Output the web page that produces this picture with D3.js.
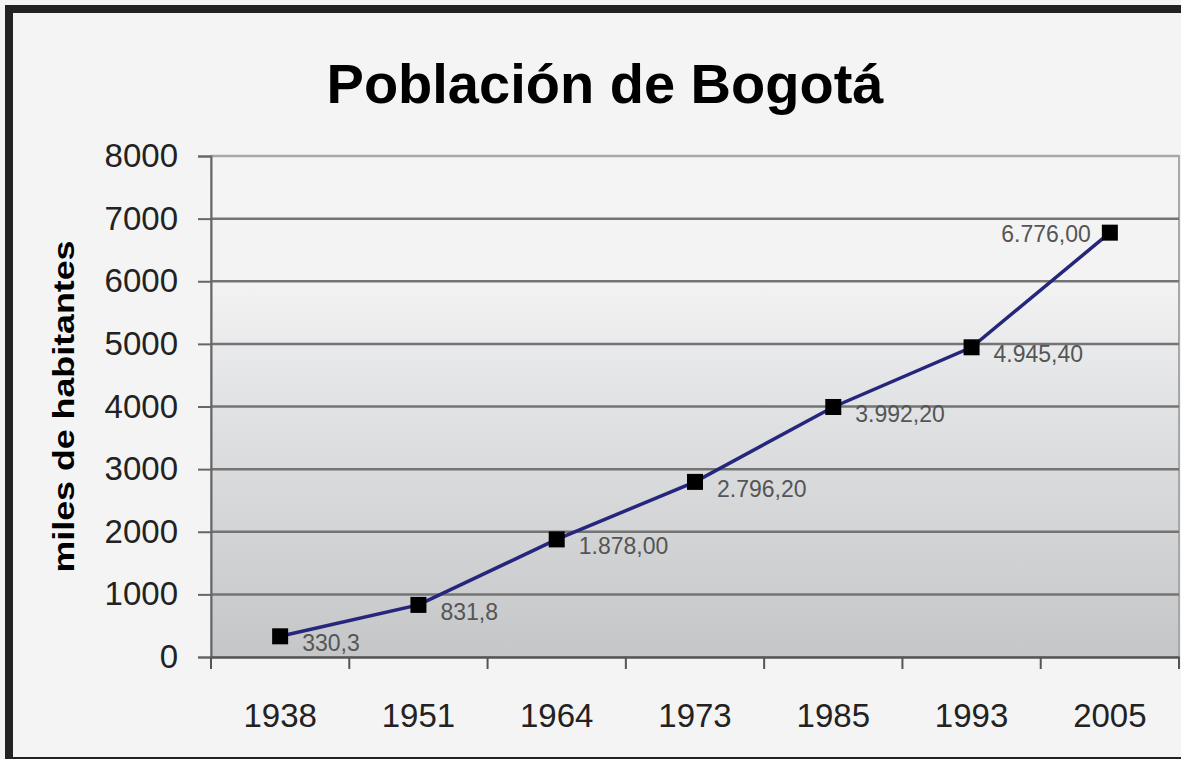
<!DOCTYPE html>
<html>
<head>
<meta charset="utf-8">
<script src="https://cdn.jsdelivr.net/npm/d3@7"></script>
<style>
  body { margin: 0; background: #f4f4f4; }
  svg { display: block; font-family: Arial, "Liberation Sans", sans-serif; }
</style>
</head>
<body>
<div id="grafico"></div>
<script>
// Población de Bogotá (miles de habitantes)
const anios = ["1938", "1951", "1964", "1973", "1985", "1993", "2005"];
const poblacion = [330.3, 831.8, 1878.0, 2796.2, 3992.2, 4945.4, 6776.0];
const etiquetas = ["330,3", "831,8", "1.878,00", "2.796,20", "3.992,20", "4.945,40", "6.776,00"];
const ticksY = [0, 1000, 2000, 3000, 4000, 5000, 6000, 7000, 8000];

const width = 1181;
const height = 759;
const margin = { top: 156, right: 2, bottom: 102, left: 211 };

const svg = d3.select("#grafico")
    .append("svg")
    .attr("width", width)
    .attr("height", height);

const data = anios.map((a, i) => ({ anio: a, valor: poblacion[i], etiqueta: etiquetas[i] }));

const x = d3.scaleBand()
    .domain(anios)
    .range([margin.left, width - margin.right]);

const y = d3.scaleLinear()
    .domain([0, 8000])
    .range([height - margin.bottom, margin.top]);

// fondo degradado del área del gráfico
const defs = svg.append("defs");
const grad = defs.append("linearGradient")
    .attr("id", "fondo")
    .attr("x1", 0).attr("y1", 0).attr("x2", 0).attr("y2", 1);
grad.append("stop").attr("offset", "0%").attr("stop-color", "#f4f4f4");
grad.append("stop").attr("offset", "25%").attr("stop-color", "#f3f3f3");
grad.append("stop").attr("offset", "45%").attr("stop-color", "#e4e5e7");
grad.append("stop").attr("offset", "100%").attr("stop-color", "#c5c6c8");

svg.append("rect")
    .attr("x", x.range()[0])
    .attr("y", y(8000))
    .attr("width", x.range()[1] - x.range()[0])
    .attr("height", y(0) - y(8000))
    .attr("fill", "url(#fondo)")
    .attr("stroke", "#a8a8a8")
    .attr("stroke-width", 2);

// líneas de cuadrícula
svg.append("g")
    .selectAll("line")
    .data(ticksY.filter(t => t > 0))
    .join("line")
    .attr("x1", x.range()[0])
    .attr("x2", x.range()[1])
    .attr("y1", d => y(d))
    .attr("y2", d => y(d))
    .attr("stroke", d => d === 8000 ? "#a8a8a8" : "#747474")
    .attr("stroke-width", 2.5);

// eje Y
const ejeY = svg.append("g")
    .attr("transform", `translate(${margin.left},0)`)
    .call(d3.axisLeft(y).tickValues(ticksY).tickSize(13).tickPadding(20).tickFormat(d3.format("d")));
ejeY.select(".domain").attr("stroke", "#666").attr("stroke-width", 2);
ejeY.selectAll(".tick line").attr("stroke", "#666").attr("stroke-width", 2);
ejeY.selectAll("text")
    .attr("fill", "#222")
    .style("font-size", "33px");

// eje X
const ejeX = svg.append("g")
    .attr("transform", `translate(0,${y(0)})`)
    .call(d3.axisBottom(x).tickSize(0).tickPadding(47));
ejeX.select(".domain").attr("stroke", "#555").attr("stroke-width", 2.5);
ejeX.selectAll("text")
    .attr("fill", "#222")
    .style("font-size", "33px");

// marcas de separación entre categorías
svg.append("g")
    .selectAll("line")
    .data(anios.concat(["fin"]))
    .join("line")
    .attr("x1", (d, i) => i < anios.length ? x(d) : x.range()[1])
    .attr("x2", (d, i) => i < anios.length ? x(d) : x.range()[1])
    .attr("y1", y(0))
    .attr("y2", y(0) + 12)
    .attr("stroke", "#555")
    .attr("stroke-width", 2);

// línea de la serie
const linea = d3.line()
    .x(d => x(d.anio) + x.bandwidth() / 2)
    .y(d => y(d.valor));

svg.append("path")
    .datum(data)
    .attr("d", linea)
    .attr("fill", "none")
    .attr("stroke", "#26267c")
    .attr("stroke-width", 3.5);

svg.append("g")
    .selectAll("rect")
    .data(data)
    .join("rect")
    .attr("x", d => x(d.anio) + x.bandwidth() / 2 - 8)
    .attr("y", d => y(d.valor) - 8)
    .attr("width", 16)
    .attr("height", 16)
    .attr("fill", "#000");

// etiquetas de datos
const ultimo = anios[anios.length - 1];
svg.append("g")
    .selectAll("text")
    .data(data)
    .join("text")
    .attr("x", d => x(d.anio) + x.bandwidth() / 2 + (d.anio === ultimo ? -19 : 22))
    .attr("y", d => y(d.valor) + (d.anio === ultimo ? 9 : 15))
    .attr("text-anchor", d => d.anio === ultimo ? "end" : "start")
    .attr("fill", "#555")
    .style("font-size", "23px")
    .text(d => d.etiqueta);

// título
svg.append("text")
    .attr("x", 605)
    .attr("y", 103)
    .attr("text-anchor", "middle")
    .attr("fill", "#000")
    .style("font-size", "56px")
    .style("font-weight", "bold")
    .text("Población de Bogotá");

// título del eje Y
svg.append("text")
    .attr("transform", `translate(74,${(y(0) + y(8000)) / 2}) rotate(-90)`)
    .attr("text-anchor", "middle")
    .attr("fill", "#000")
    .attr("textLength", 332)
    .attr("lengthAdjust", "spacingAndGlyphs")
    .style("font-size", "30px")
    .style("font-weight", "bold")
    .text("miles de habitantes");

// marco exterior
svg.append("rect")
    .attr("x", 9)
    .attr("y", 9)
    .attr("width", 1250)
    .attr("height", 752)
    .attr("fill", "none")
    .attr("stroke", "#222")
    .attr("stroke-width", 8);
</script>
</body>
</html>
